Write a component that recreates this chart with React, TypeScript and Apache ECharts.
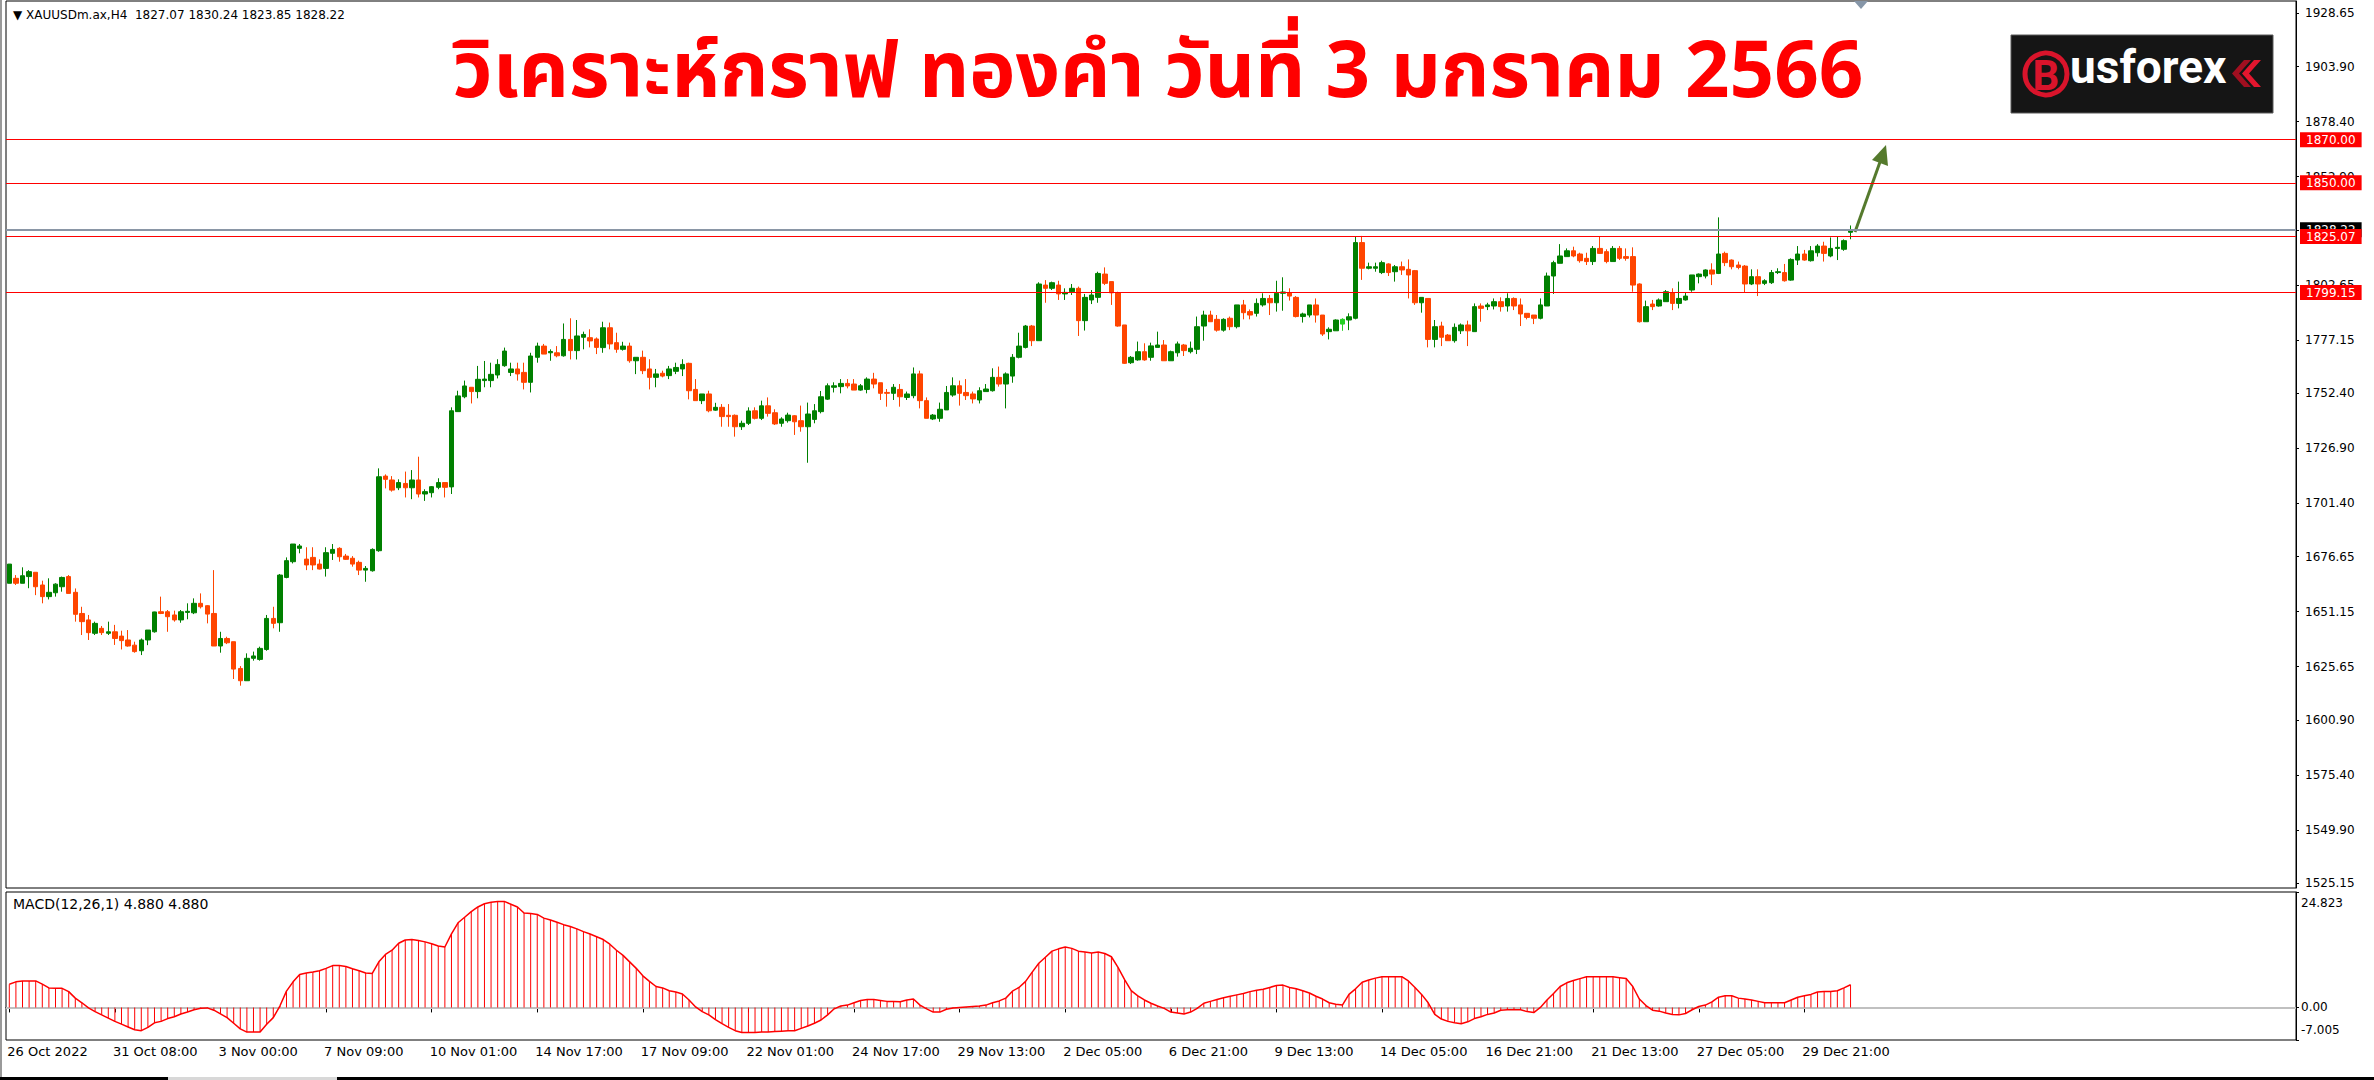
import React, { useEffect, useRef } from 'react';
import * as echarts from 'echarts';

// ---------- DATA ----------
const opens = [
  1664.3, 1666.6, 1664.3, 1667.4, 1669.4, 1663.5, 1658.1, 1659.9, 1662.7, 1667.4,
  1660.1, 1650.3, 1647.3, 1641.1, 1643.4, 1641.1, 1641.8, 1639.8, 1638.0, 1635.6,
  1633.0, 1638.0, 1641.8, 1651.1, 1651.1, 1649.6, 1647.3, 1650.8, 1650.6, 1655.0,
  1653.9, 1650.3, 1635.2, 1638.7, 1637.2, 1624.8, 1619.1, 1629.5, 1629.0, 1633.6,
  1648.0, 1646.0, 1667.0, 1674.3, 1680.5, 1675.5, 1676.3, 1673.2, 1671.2, 1678.2,
  1680.5, 1676.9, 1675.9, 1674.0, 1670.4, 1670.1, 1679.4, 1714.0, 1712.2, 1708.6,
  1710.6, 1708.6, 1712.2, 1705.7, 1706.3, 1708.8, 1711.0, 1709.0, 1743.9, 1750.8,
  1755.2, 1753.2, 1758.3, 1758.3, 1760.9, 1765.2, 1762.1, 1763.7, 1762.1, 1757.5,
  1769.1, 1774.3, 1771.2, 1771.2, 1769.8, 1777.4, 1772.2, 1778.4, 1778.2, 1777.6,
  1773.6, 1782.8, 1775.9, 1772.8, 1774.3, 1767.5, 1769.1, 1763.7, 1759.8, 1761.7,
  1760.6, 1762.6, 1763.7, 1766.3, 1754.2, 1749.0, 1752.1, 1744.6, 1745.9, 1742.2,
  1742.2, 1736.9, 1738.5, 1744.3, 1740.8, 1746.6, 1743.4, 1738.5, 1739.7, 1742.0,
  1739.7, 1736.9, 1740.3, 1743.9, 1749.7, 1755.2, 1755.5, 1757.0, 1756.7, 1753.9,
  1754.2, 1759.0, 1757.3, 1752.8, 1752.4, 1754.2, 1750.5, 1751.3, 1761.4, 1749.0,
  1740.5, 1740.8, 1744.7, 1751.6, 1755.9, 1752.8, 1752.1, 1749.3, 1753.2, 1753.6,
  1759.8, 1756.7, 1760.4, 1769.1, 1773.7, 1783.6, 1776.8, 1802.6, 1801.1, 1802.6,
  1798.5, 1799.5, 1801.1, 1786.1, 1795.7, 1796.9, 1807.7, 1804.2, 1799.1, 1784.1,
  1766.6, 1767.9, 1771.7, 1769.1, 1773.7, 1774.8, 1767.5, 1771.2, 1774.8, 1771.7,
  1772.8, 1783.6, 1788.7, 1786.7, 1781.7, 1787.2, 1783.3, 1793.4, 1790.3, 1789.5,
  1793.4, 1796.4, 1794.4, 1798.8, 1799.1, 1796.9, 1788.0, 1788.7, 1793.4, 1788.7,
  1781.0, 1781.4, 1784.5, 1786.4, 1787.2, 1822.3, 1810.4, 1810.4, 1808.4, 1812.4,
  1808.8, 1811.1, 1809.9, 1809.3, 1794.4, 1796.4, 1777.4, 1783.6, 1779.4, 1776.8,
  1781.4, 1784.1, 1781.0, 1792.9, 1792.6, 1792.9, 1794.9, 1792.9, 1796.4, 1793.4,
  1789.5, 1788.7, 1787.2, 1792.9, 1806.8, 1812.7, 1815.8, 1818.5, 1817.0, 1815.0,
  1813.5, 1819.6, 1818.1, 1813.5, 1819.6, 1815.8, 1815.8, 1803.1, 1785.6, 1793.8,
  1792.9, 1794.9, 1799.1, 1794.1, 1795.7, 1800.3, 1806.5, 1806.8, 1809.6, 1808.0,
  1817.3, 1814.2, 1811.9, 1811.4, 1803.1, 1806.5, 1803.4, 1803.7, 1808.4, 1808.4,
  1804.9, 1814.2, 1817.0, 1813.9, 1817.6, 1820.7, 1816.1, 1819.6, 1819.2, 1827.07,
];

const closes = [
  1673.2, 1664.3, 1667.8, 1669.7, 1662.7, 1658.1, 1660.1, 1663.9, 1667.0, 1659.6,
  1649.9, 1646.5, 1641.4, 1645.7, 1641.4, 1641.8, 1638.7, 1637.7, 1635.2, 1632.6,
  1638.0, 1642.6, 1651.0, 1650.3, 1648.8, 1647.3, 1651.1, 1651.3, 1655.0, 1653.4,
  1650.0, 1635.2, 1638.7, 1636.7, 1624.5, 1619.1, 1629.5, 1630.6, 1634.1, 1648.0,
  1645.7, 1668.1, 1674.8, 1682.5, 1681.6, 1672.8, 1672.8, 1670.9, 1678.5, 1680.0,
  1676.6, 1675.4, 1673.2, 1670.4, 1671.2, 1680.0, 1713.7, 1712.5, 1707.5, 1711.0,
  1708.6, 1712.2, 1705.7, 1706.8, 1709.1, 1711.0, 1708.8, 1744.3, 1751.2, 1755.8,
  1753.2, 1758.9, 1759.0, 1761.2, 1765.8, 1772.0, 1763.7, 1761.4, 1757.5, 1769.7,
  1774.3, 1770.6, 1771.8, 1769.8, 1777.4, 1772.2, 1779.0, 1779.7, 1776.7, 1773.7,
  1782.8, 1775.3, 1772.8, 1774.3, 1767.5, 1769.1, 1762.9, 1759.8, 1761.4, 1760.4,
  1763.7, 1764.4, 1765.8, 1753.6, 1749.0, 1752.1, 1744.3, 1745.9, 1741.6, 1741.6,
  1736.9, 1738.5, 1744.2, 1740.8, 1746.6, 1743.1, 1738.2, 1740.5, 1742.3, 1739.2,
  1736.9, 1742.8, 1744.3, 1750.8, 1755.9, 1755.9, 1757.0, 1755.8, 1753.9, 1755.9,
  1759.0, 1756.7, 1752.4, 1752.4, 1755.2, 1750.8, 1752.1, 1761.4, 1749.0, 1740.8,
  1742.3, 1745.0, 1752.8, 1755.9, 1752.4, 1751.3, 1749.8, 1753.6, 1754.4, 1759.8,
  1756.7, 1761.4, 1769.1, 1774.3, 1783.6, 1776.8, 1803.1, 1801.1, 1803.7, 1798.5,
  1799.2, 1801.1, 1786.1, 1796.9, 1798.0, 1808.0, 1803.4, 1799.0, 1783.6, 1766.3,
  1769.1, 1771.7, 1767.9, 1774.4, 1774.8, 1767.5, 1771.7, 1775.3, 1772.2, 1773.3,
  1783.3, 1788.7, 1785.6, 1781.7, 1786.7, 1783.3, 1793.4, 1789.8, 1788.7, 1794.1,
  1796.4, 1794.4, 1798.8, 1799.4, 1797.5, 1788.0, 1789.2, 1793.4, 1788.7, 1779.9,
  1782.1, 1786.4, 1786.7, 1787.9, 1822.3, 1810.4, 1811.1, 1811.1, 1813.0, 1808.4,
  1811.1, 1809.6, 1807.3, 1794.4, 1796.9, 1777.4, 1783.3, 1778.4, 1776.8, 1783.0,
  1784.1, 1781.4, 1792.6, 1791.8, 1793.4, 1794.9, 1792.6, 1796.4, 1792.9, 1789.2,
  1787.6, 1787.2, 1793.4, 1806.8, 1813.0, 1816.1, 1818.5, 1816.1, 1813.9, 1813.5,
  1819.6, 1817.3, 1813.5, 1819.6, 1815.0, 1815.0, 1802.6, 1785.6, 1792.6, 1792.6,
  1795.7, 1799.5, 1794.1, 1796.4, 1797.5, 1807.3, 1807.7, 1809.6, 1807.7, 1817.0,
  1813.0, 1811.1, 1810.8, 1803.1, 1806.5, 1803.1, 1804.6, 1808.4, 1808.8, 1804.6,
  1814.5, 1817.0, 1814.2, 1818.5, 1820.7, 1817.3, 1819.6, 1820.1, 1823.2, 1828.22,
];

const lows = [
  1664.3, 1663.5, 1664.3, 1662.0, 1658.8, 1655.0, 1656.8, 1658.1, 1660.4, 1659.6,
  1646.5, 1640.3, 1638.0, 1640.3, 1640.3, 1640.3, 1635.7, 1633.6, 1634.9, 1632.1,
  1631.0, 1635.6, 1641.4, 1650.0, 1641.8, 1646.5, 1646.0, 1647.6, 1650.0, 1652.6,
  1645.7, 1635.2, 1632.1, 1636.1, 1619.9, 1616.8, 1619.1, 1628.4, 1628.4, 1633.0,
  1643.4, 1641.8, 1666.6, 1673.5, 1678.2, 1670.4, 1670.4, 1670.7, 1667.4, 1675.1,
  1674.3, 1675.1, 1672.0, 1668.1, 1665.0, 1669.7, 1678.9, 1708.3, 1706.8, 1707.5,
  1704.1, 1703.3, 1704.1, 1702.5, 1704.1, 1707.9, 1704.1, 1705.7, 1743.9, 1750.1,
  1747.7, 1750.1, 1755.2, 1755.2, 1759.3, 1764.7, 1760.4, 1758.3, 1754.2, 1752.8,
  1766.6, 1770.6, 1767.5, 1769.1, 1769.4, 1768.1, 1768.1, 1772.8, 1773.7, 1770.6,
  1771.2, 1772.8, 1771.2, 1772.2, 1766.6, 1761.3, 1761.3, 1754.2, 1755.2, 1759.8,
  1759.0, 1761.3, 1760.4, 1749.6, 1749.0, 1747.4, 1743.6, 1744.3, 1736.9, 1736.9,
  1732.3, 1735.4, 1737.7, 1740.3, 1740.0, 1741.6, 1737.7, 1736.9, 1738.8, 1733.1,
  1734.6, 1720.2, 1738.5, 1743.1, 1749.3, 1752.8, 1752.4, 1754.7, 1753.9, 1753.6,
  1752.4, 1754.7, 1749.3, 1746.2, 1749.3, 1746.2, 1749.3, 1750.1, 1745.4, 1740.8,
  1740.0, 1739.2, 1744.7, 1750.8, 1746.7, 1749.3, 1747.7, 1747.7, 1753.2, 1753.2,
  1755.5, 1745.4, 1757.3, 1768.6, 1773.2, 1774.3, 1776.8, 1794.4, 1800.3, 1795.7,
  1795.7, 1798.0, 1779.0, 1781.5, 1793.8, 1794.4, 1802.6, 1793.4, 1783.3, 1766.0,
  1766.0, 1767.5, 1767.5, 1767.5, 1773.7, 1767.5, 1767.5, 1769.4, 1769.7, 1770.9,
  1770.6, 1776.8, 1785.6, 1781.0, 1781.0, 1781.7, 1782.5, 1786.7, 1786.7, 1788.0,
  1792.6, 1788.7, 1790.3, 1790.7, 1795.4, 1787.6, 1785.2, 1787.6, 1785.2, 1779.0,
  1777.4, 1781.4, 1781.4, 1781.7, 1786.7, 1805.0, 1809.9, 1808.8, 1807.7, 1806.8,
  1804.2, 1807.3, 1796.4, 1793.4, 1789.8, 1773.7, 1773.7, 1774.3, 1776.8, 1775.9,
  1779.9, 1774.3, 1781.0, 1785.6, 1791.0, 1791.3, 1790.3, 1790.3, 1791.0, 1783.6,
  1786.7, 1784.5, 1786.7, 1792.9, 1798.5, 1812.7, 1815.8, 1815.5, 1813.0, 1811.9,
  1811.9, 1817.0, 1812.7, 1813.5, 1814.2, 1813.9, 1799.5, 1785.2, 1785.6, 1791.0,
  1792.6, 1794.9, 1791.0, 1791.8, 1795.4, 1799.5, 1803.4, 1805.7, 1802.6, 1807.7,
  1811.4, 1809.9, 1809.9, 1799.1, 1802.6, 1797.5, 1802.6, 1803.1, 1807.7, 1804.2,
  1804.6, 1811.9, 1813.9, 1813.5, 1815.8, 1813.5, 1815.5, 1814.2, 1818.5, 1823.85,
];

const highs = [
  1673.2, 1668.1, 1671.7, 1670.4, 1669.4, 1665.5, 1666.6, 1664.3, 1667.4, 1668.1,
  1661.9, 1653.4, 1649.6, 1646.5, 1644.5, 1646.5, 1645.0, 1642.3, 1642.6, 1637.2,
  1638.7, 1642.6, 1651.1, 1658.1, 1651.9, 1651.6, 1651.9, 1655.0, 1657.3, 1659.6,
  1654.2, 1670.4, 1641.8, 1639.5, 1637.2, 1625.9, 1631.8, 1632.6, 1634.9, 1649.6,
  1653.4, 1668.6, 1676.3, 1682.5, 1682.5, 1681.0, 1681.0, 1675.4, 1681.0, 1682.5,
  1681.0, 1677.9, 1676.9, 1674.8, 1672.3, 1680.5, 1717.6, 1714.8, 1714.0, 1712.5,
  1716.1, 1716.8, 1723.0, 1707.9, 1709.4, 1713.0, 1711.0, 1745.9, 1753.6, 1758.3,
  1755.2, 1765.1, 1767.4, 1766.6, 1768.2, 1773.6, 1766.6, 1766.6, 1766.6, 1771.2,
  1775.9, 1775.3, 1772.8, 1774.3, 1784.8, 1787.2, 1786.4, 1781.0, 1782.1, 1778.3,
  1785.6, 1785.2, 1780.5, 1776.3, 1775.9, 1769.1, 1772.2, 1768.2, 1763.7, 1762.9,
  1765.1, 1766.6, 1768.2, 1766.6, 1759.0, 1752.1, 1753.6, 1748.0, 1747.4, 1747.4,
  1742.6, 1739.7, 1745.9, 1745.9, 1749.0, 1750.5, 1745.0, 1741.3, 1743.4, 1742.3,
  1746.7, 1748.1, 1747.4, 1753.5, 1757.0, 1757.5, 1759.0, 1759.0, 1759.0, 1756.7,
  1759.8, 1761.9, 1757.3, 1754.4, 1756.7, 1756.7, 1753.2, 1764.4, 1762.9, 1750.5,
  1742.8, 1748.1, 1755.8, 1759.8, 1758.3, 1759.0, 1753.2, 1755.2, 1756.7, 1764.0,
  1764.8, 1762.1, 1770.6, 1780.5, 1784.1, 1784.1, 1803.9, 1804.9, 1804.2, 1804.6,
  1801.1, 1803.1, 1801.9, 1798.5, 1800.3, 1808.8, 1810.8, 1804.2, 1799.5, 1784.1,
  1769.7, 1776.4, 1775.6, 1775.9, 1781.0, 1777.1, 1772.2, 1776.4, 1775.3, 1776.4,
  1788.0, 1790.7, 1790.7, 1788.7, 1787.2, 1788.0, 1793.4, 1795.7, 1791.3, 1796.4,
  1798.8, 1798.0, 1804.6, 1806.2, 1801.1, 1797.5, 1789.8, 1793.4, 1796.4, 1788.7,
  1783.0, 1786.7, 1787.2, 1789.5, 1825.0, 1825.4, 1813.0, 1813.0, 1813.9, 1812.7,
  1811.9, 1813.5, 1814.5, 1809.6, 1796.9, 1796.4, 1786.4, 1785.6, 1779.9, 1784.8,
  1784.8, 1786.1, 1794.1, 1794.1, 1794.4, 1796.4, 1796.9, 1798.8, 1796.9, 1796.4,
  1789.5, 1788.7, 1796.4, 1808.4, 1813.9, 1821.6, 1819.6, 1820.4, 1817.6, 1817.6,
  1820.7, 1825.0, 1819.2, 1820.7, 1820.7, 1819.6, 1820.1, 1803.4, 1795.4, 1795.7,
  1796.4, 1800.3, 1801.1, 1804.2, 1799.1, 1807.3, 1808.0, 1809.9, 1812.7, 1834.0,
  1818.1, 1814.5, 1813.5, 1811.9, 1809.9, 1809.9, 1805.3, 1809.6, 1810.4, 1812.4,
  1815.0, 1820.7, 1818.9, 1820.7, 1821.6, 1822.7, 1824.7, 1825.0, 1823.8, 1830.24,
];

const macdValues = [
  5.0, 5.5, 5.7, 5.7, 5.7, 5.0, 4.2, 4.1, 4.1, 3.4,
  2.0, 1.0, -0.1, -0.9, -1.6, -2.3, -3.0, -3.6, -4.2, -4.8,
  -5.0, -4.3, -3.3, -3.0, -2.4, -2.0, -1.4, -1.0, -0.5, -0.2,
  -0.1, -0.6, -1.4, -2.2, -3.4, -4.6, -5.3, -5.3, -5.3, -3.6,
  -2.2, 0.3, 3.5, 5.5, 7.1, 7.4, 7.6, 7.9, 8.4, 9.0,
  9.0, 8.8, 8.3, 7.9, 7.4, 7.3, 9.8, 11.4, 12.3, 13.8,
  14.5, 14.6, 14.4, 14.1, 13.7, 13.2, 13.0, 15.8, 18.2, 19.4,
  20.6, 21.6, 22.3, 22.6, 22.8, 22.8, 22.2, 21.6, 20.3, 20.2,
  20.0, 19.2, 18.8, 18.3, 17.8, 17.4, 16.9, 16.3, 15.8, 15.2,
  14.6, 13.6, 12.3, 11.2, 9.8, 8.4, 6.8, 5.6, 4.5, 4.2,
  3.6, 3.3, 2.9, 1.6, 0.1, -0.9, -1.6, -2.6, -3.5, -4.3,
  -5.0, -5.4, -5.4, -5.4, -5.3, -5.3, -5.2, -5.1, -5.0, -5.0,
  -4.5, -4.0, -3.4, -2.7, -1.6, -0.3, 0.3, 0.5, 1.0, 1.5,
  1.7, 1.7, 1.5, 1.3, 1.3, 1.2, 1.6, 1.8, 0.5, -0.3,
  -1.0, -1.0, -0.4, -0.1, 0.0, 0.1, 0.2, 0.3, 0.5, 1.0,
  1.4, 2.0, 3.5, 4.3, 5.6, 7.6, 9.5, 10.8, 12.1, 12.6,
  13.0, 12.7, 12.1, 11.9, 11.7, 11.9, 11.6, 10.9, 8.6, 6.0,
  3.6, 2.5, 1.6, 0.9, 0.3, -0.2, -1.0, -1.2, -1.4, -1.0,
  -0.2, 0.9, 1.3, 1.7, 2.1, 2.4, 2.7, 3.0, 3.4, 3.7,
  3.9, 4.3, 4.7, 4.8, 4.3, 4.0, 3.6, 3.1, 2.4, 1.8,
  1.0, 0.7, 0.5, 2.8, 4.0, 5.4, 5.9, 6.3, 6.6, 6.6,
  6.6, 6.6, 5.7, 4.3, 2.8, 1.0, -1.5, -2.5, -3.0, -3.3,
  -3.5, -3.1, -2.4, -2.0, -1.5, -1.2, -0.6, -0.5, -0.5, -0.5,
  -0.9, -1.1, 0.0, 1.6, 3.0, 4.5, 5.3, 5.8, 6.2, 6.6,
  6.6, 6.6, 6.6, 6.6, 6.4, 6.2, 4.5, 1.8, 0.4, -0.6,
  -0.8, -1.2, -1.5, -1.6, -1.3, -0.5, 0.2, 0.5, 1.2, 2.2,
  2.5, 2.5, 2.0, 1.8, 1.6, 1.3, 1.0, 1.0, 1.0, 1.0,
  1.6, 2.2, 2.5, 2.8, 3.3, 3.4, 3.4, 3.6, 4.2, 4.88,
];

const xTickLabels = [
  '26 Oct 2022', '31 Oct 08:00', '3 Nov 00:00', '7 Nov 09:00', '10 Nov 01:00',
  '14 Nov 17:00', '17 Nov 09:00', '22 Nov 01:00', '24 Nov 17:00', '29 Nov 13:00',
  '2 Dec 05:00', '6 Dec 21:00', '9 Dec 13:00', '14 Dec 05:00', '16 Dec 21:00',
  '21 Dec 13:00', '27 Dec 05:00', '29 Dec 21:00',
];

const priceTickLabels = [
  '1525.15', '1549.90', '1575.40', '1600.90', '1625.65', '1651.15', '1676.65',
  '1701.40', '1726.90', '1752.40', '1777.15', '1802.65', '1828.15', '1852.90',
  '1878.40', '1903.90', '1928.65',
];

const macdTickLabels = ['-7.005', '0.00', '24.823'];

const levelValues = [1870.0, 1850.0, 1825.07, 1799.15];
const currentPrice = 1828.22;
const headerText = '▼ XAUUSDm.ax,H4  1827.07 1830.24 1823.85 1828.22';
const macdHeader = 'MACD(12,26,1) 4.880 4.880';
const titleText = 'วิเคราะห์กราฟ ทองคำ วันที่ 3 มกราคม 2566';

const TOTAL_SLOTS = 347;
const LABEL_STEP = 16;
const LIGHT_CANDLE = 202;

// ---------- CHART ----------
const MT_FONT = 'Tahoma, "DejaVu Sans", sans-serif';
const BULL = '#008000';
const BEAR = '#ff4500';

function buildOption() {
  const categories = Array.from({ length: TOTAL_SLOTS }, (_, i) => String(i));
  const candleData = opens.map((o, i) => {
    const v = [o, closes[i], lows[i], highs[i]];
    if (i === LIGHT_CANDLE) {
      return { value: v, itemStyle: { color: '#22d022', borderColor: '#22d022' } };
    }
    return v;
  });
  const showTick = (i: number) => i % LABEL_STEP === 0 && i / LABEL_STEP < xTickLabels.length;
  const priceVals = priceTickLabels.map(Number);
  const macdVals = macdTickLabels.map(Number);

  const lineLabel = (bg: string) => ({
    show: true,
    position: 'end',
    distance: 4,
    color: '#fff',
    backgroundColor: bg,
    fontFamily: MT_FONT,
    fontSize: 12,
    lineHeight: 13,
    padding: [1, 6, 1, 6],
  });

  return {
    animation: false,
    backgroundColor: '#ffffff',
    grid: [
      { left: 6, right: 78, top: 1, height: 887, show: true, borderColor: '#000', borderWidth: 1, containLabel: false },
      { left: 6, right: 78, top: 892, height: 148, show: true, borderColor: '#000', borderWidth: 1, containLabel: false },
    ],
    xAxis: [
      {
        type: 'category', gridIndex: 0, data: categories, boundaryGap: true, show: false,
      },
      {
        type: 'category', gridIndex: 1, data: categories, boundaryGap: true,
        axisLine: { show: true, lineStyle: { color: '#000', width: 1 } },
        axisTick: { show: true, alignWithLabel: true, interval: (i: number) => showTick(i), length: 5, lineStyle: { color: '#000' } },
        axisLabel: {
          show: true,
          interval: (i: number) => showTick(i),
          formatter: (_v: string, i: number) => xTickLabels[i / LABEL_STEP] ?? '',
          align: 'left',
          margin: 5,
          color: '#000',
          fontFamily: MT_FONT,
          fontSize: 13,
          padding: [0, 0, 0, -2],
        },
        splitLine: { show: false },
      },
    ],
    yAxis: [
      {
        type: 'value', gridIndex: 0, position: 'right', min: 1522.97, max: 1934.35, scale: true,
        axisLine: { show: true, lineStyle: { color: '#000' } },
        axisTick: { show: true, length: 3, customValues: priceVals, lineStyle: { color: '#000' } },
        axisLabel: {
          show: true, customValues: priceVals, formatter: (v: number) => v.toFixed(2),
          color: '#000', fontFamily: MT_FONT, fontSize: 12, margin: 9,
        },
        splitLine: { show: false },
      },
      {
        type: 'value', gridIndex: 1, position: 'right', min: -7.005, max: 24.823,
        axisLine: { show: true, lineStyle: { color: '#000' } },
        axisTick: { show: true, length: 3, customValues: macdVals, lineStyle: { color: '#000' } },
        axisLabel: {
          show: true, customValues: macdVals,
          formatter: (v: number) => {
            const idx = macdVals.indexOf(v);
            const s = macdTickLabels[idx] ?? String(v);
            if (idx === 2) return '{t|' + s + '}';
            if (idx === 0) return '{b|' + s + '}';
            return '{z|' + s + '}';
          },
          rich: {
            t: { padding: [22, 0, 0, 0], color: '#000', fontFamily: MT_FONT, fontSize: 12 },
            b: { padding: [0, 0, 20, 0], color: '#000', fontFamily: MT_FONT, fontSize: 12 },
            z: { color: '#000', fontFamily: MT_FONT, fontSize: 12 },
          },
          margin: 5,
        },
        splitLine: { show: false },
      },
    ],
    series: [
      {
        type: 'candlestick',
        xAxisIndex: 0,
        yAxisIndex: 0,
        data: candleData,
        barWidth: 5,
        itemStyle: { color: BULL, color0: BEAR, borderColor: BULL, borderColor0: BEAR, borderWidth: 1 },
        markLine: {
          silent: true,
          symbol: ['none', 'none'],
          animation: false,
          data: [
            { yAxis: currentPrice, lineStyle: { color: '#8a96a6', width: 2, type: 'solid' }, label: { ...lineLabel('#000'), formatter: currentPrice.toFixed(2) } },
            ...levelValues.map((v) => ({
              yAxis: v,
              lineStyle: { color: '#ff0000', width: 1, type: 'solid' },
              label: { ...lineLabel('#ff0000'), formatter: v.toFixed(2) },
            })),
          ],
        },
      },
      {
        type: 'bar',
        xAxisIndex: 1,
        yAxisIndex: 1,
        data: macdValues,
        barWidth: 1,
        itemStyle: { color: '#ff0000' },
        markLine: {
          silent: true,
          symbol: ['none', 'none'],
          label: { show: false },
          lineStyle: { color: '#c0c0c0', width: 2, type: 'solid' },
          data: [{ yAxis: 0 }],
          z: 1,
        },
      },
      {
        type: 'line',
        xAxisIndex: 1,
        yAxisIndex: 1,
        data: macdValues,
        symbol: 'none',
        lineStyle: { color: '#ff0000', width: 1.5 },
      },
    ],
    graphic: [
      { type: 'rect', shape: { x: 0, y: 0, width: 2, height: 1080 }, style: { fill: '#9a9a9a' }, silent: true },
      { type: 'rect', shape: { x: 0, y: 1077, width: 168, height: 3 }, style: { fill: '#000' }, silent: true },
      { type: 'rect', shape: { x: 168, y: 1077, width: 169, height: 3 }, style: { fill: '#d8d8d8' }, silent: true },
      { type: 'rect', shape: { x: 337, y: 1077, width: 2037, height: 3 }, style: { fill: '#000' }, silent: true },
      {
        type: 'text', x: 13, y: 9, silent: true,
        style: { text: headerText, fill: '#000', fontFamily: MT_FONT, fontSize: 12, align: 'left', verticalAlign: 'top' },
      },
      {
        type: 'text', x: 13, y: 897, silent: true,
        style: { text: macdHeader, fill: '#000', fontFamily: MT_FONT, fontSize: 14, align: 'left', verticalAlign: 'top' },
      },
      {
        type: 'text', x: 1158, y: 73, silent: true,
        style: {
          text: titleText, fill: '#ff0000', fontWeight: 'bold',
          fontFamily: '"Noto Sans Thai", "Noto Sans Thai UI", Kanit, Prompt, Loma, Garuda, "Noto Sans", sans-serif',
          fontSize: 78, align: 'center', verticalAlign: 'middle',
        },
      },
      // logo
      { type: 'rect', shape: { x: 2011, y: 35, width: 262, height: 78 }, style: { fill: '#151515', stroke: '#5a5a5a', lineWidth: 1 }, silent: true },
      { type: 'circle', shape: { cx: 2046, cy: 74, r: 21 }, style: { fill: 'none', stroke: '#d9142b', lineWidth: 5 }, silent: true },
      {
        type: 'text', x: 2046, y: 75, silent: true,
        style: { text: 'B', fill: '#d9142b', fontFamily: 'Roboto, "DejaVu Sans", sans-serif', fontWeight: 'bold', fontSize: 42, align: 'center', verticalAlign: 'middle' },
      },
      {
        type: 'text', x: 2070, y: 90, silent: true,
        style: { text: 'usforex', fill: '#ffffff', fontFamily: 'Roboto, "DejaVu Sans", sans-serif', fontWeight: 'bold', fontSize: 46, align: 'left', verticalAlign: 'bottom' },
      },
      { type: 'polygon', shape: { points: [[2232, 73.5], [2244, 60], [2251, 60], [2239, 73.5], [2251, 87], [2244, 87]] }, style: { fill: '#a10f20' }, silent: true },
      { type: 'polygon', shape: { points: [[2242, 73.5], [2254, 60], [2261, 60], [2249, 73.5], [2261, 87], [2254, 87]] }, style: { fill: '#e3162e' }, silent: true },
      // chart-shift marker
      { type: 'polygon', shape: { points: [[1854, 1], [1868, 1], [1861, 9]] }, style: { fill: '#8696a8' }, silent: true },
      // arrow
      { type: 'line', shape: { x1: 1855, y1: 232, x2: 1880, y2: 162 }, style: { stroke: '#557a2d', lineWidth: 3 }, silent: true },
      { type: 'polygon', shape: { points: [[1886, 145], [1888, 166], [1872, 160]] }, style: { fill: '#557a2d' }, silent: true },
    ],
  };
}

export default function App() {
  const ref = useRef<HTMLDivElement>(null);
  useEffect(() => {
    document.body.style.margin = '0';
    const chart = echarts.init(ref.current as HTMLDivElement, null, { renderer: 'svg' });
    chart.setOption(buildOption() as any);
    return () => chart.dispose();
  }, []);
  return (
    <div
      ref={ref}
      style={{ position: 'fixed', left: 0, top: 0, width: 2374, height: 1080, background: '#fff' }}
    />
  );
}
